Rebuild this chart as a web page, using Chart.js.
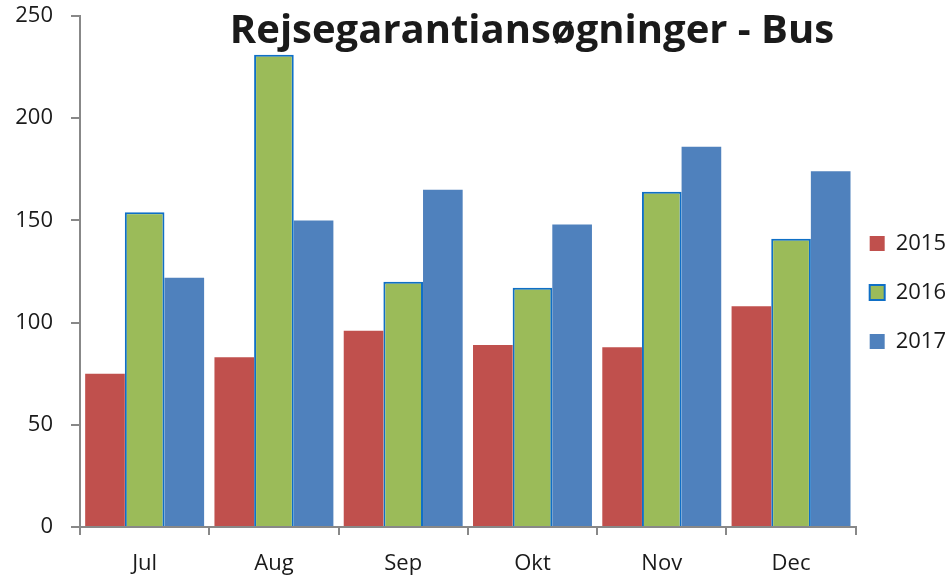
<!DOCTYPE html>
<html>
<head>
<meta charset="utf-8">
<script src="https://cdn.jsdelivr.net/npm/chart.js@4"></script>
<style>
  html, body { margin: 0; padding: 0; background: #fff; }
  #wrap { width: 950px; height: 577px; }
</style>
</head>
<body>
<div id="wrap"><canvas id="busChart"></canvas></div>
<script>
// data
const months = ['Jul', 'Aug', 'Sep', 'Okt', 'Nov', 'Dec'];
const y2015 = [75, 83, 96, 89, 88, 108];
const y2016 = [154, 231, 120, 117, 164, 141];
const y2017 = [122, 150, 165, 148, 186, 174];
const yTicks = [0, 50, 100, 150, 200, 250];
const chartTitle = 'Rejsegarantiansøgninger - Bus';

const FONT = '"Open Sans", "Liberation Sans", sans-serif';

// title drawn over the plot area, like the original
const overlayTitle = {
    id: 'overlayTitle',
    afterDraw(chart) {
        const c = chart.ctx;
        c.save();
        c.font = 'bold 40px ' + FONT;
        c.fillStyle = '#1a1a1a';
        c.textAlign = 'center';
        c.textBaseline = 'middle';
        c.fillText(chartTitle, 532, 32);
        c.restore();
    }
};

// legend rows need wide spacing but a small left gap, so nudge it
const legendNudge = {
    id: 'legendNudge',
    afterLayout(chart) {
        chart.legend.left -= 13;
        chart.legend.right -= 13;
        chart.legend.top += 4;
        chart.legend.bottom += 4;
    }
};

const ctx = document.getElementById('busChart').getContext('2d');
const busChart = new Chart(ctx, {
    type: 'bar',
    data: {
        labels: months,
        datasets: [
            {
                label: '2015',
                data: y2015,
                backgroundColor: '#C0504D',
                borderWidth: 0
            },
            {
                label: '2016',
                data: y2016,
                backgroundColor: '#9BBB59',
                borderColor: '#0F6FC6',
                borderWidth: 2,
                borderSkipped: 'bottom'
            },
            {
                label: '2017',
                data: y2017,
                backgroundColor: '#4F81BD',
                borderWidth: 0
            }
        ]
    },
    options: {
        responsive: true,
        maintainAspectRatio: false,
        animation: false,
        layout: {
            padding: { top: 0, right: -19, bottom: 0, left: 0 }
        },
        datasets: {
            bar: {
                barPercentage: 1,
                categoryPercentage: 0.92
            }
        },
        plugins: {
            legend: {
                position: 'right',
                labels: {
                    boxWidth: 15,
                    boxHeight: 15,
                    padding: 27,
                    color: '#1a1a1a',
                    font: { family: FONT, size: 22 }
                }
            },
            title: { display: false },
            tooltip: { enabled: false }
        },
        scales: {
            x: {
                afterFit(scale) { scale.height = 50; },
                grid: {
                    display: true,
                    drawOnChartArea: false,
                    drawTicks: true,
                    tickLength: 8,
                    color: '#888',
                    lineWidth: 2,
                    offset: true
                },
                border: { color: '#888', width: 2 },
                ticks: {
                    color: '#1a1a1a',
                    padding: 16,
                    font: { family: FONT, size: 22 }
                }
            },
            y: {
                min: 0,
                max: 250,
                afterFit(scale) {
                    scale.width = 80;
                    scale.paddingTop = 16;
                },
                afterBuildTicks(axis) {
                    axis.ticks = yTicks.map(v => ({ value: v }));
                },
                grid: {
                    display: true,
                    drawOnChartArea: false,
                    drawTicks: true,
                    tickLength: 9,
                    color: '#888',
                    lineWidth: 2
                },
                border: { color: '#888', width: 2 },
                ticks: {
                    color: '#1a1a1a',
                    padding: 18,
                    font: { family: FONT, size: 22 }
                }
            }
        }
    },
    plugins: [overlayTitle, legendNudge]
});
</script>
</body>
</html>
